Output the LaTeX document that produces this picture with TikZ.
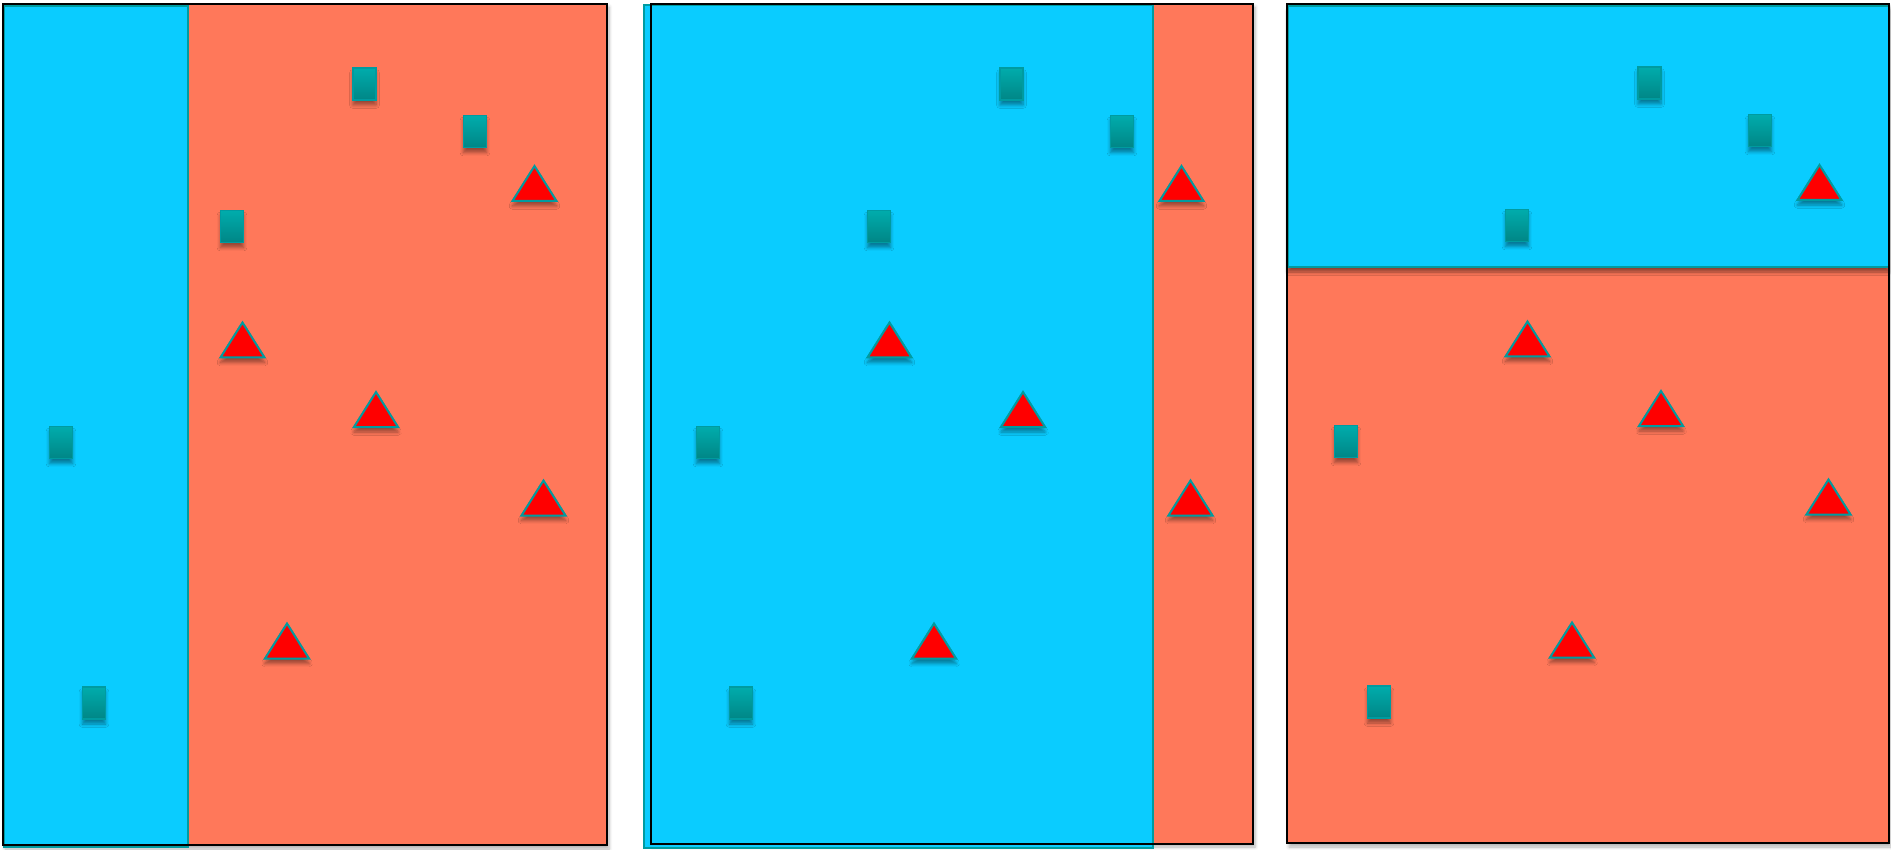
\documentclass[tikz,border=0pt]{standalone}
\usetikzlibrary{shadows.blur}
\definecolor{skyb}{RGB}{10,204,255}
\definecolor{salmon}{RGB}{255,120,90}
\definecolor{tealA}{RGB}{0,172,172}
\definecolor{tealB}{RGB}{0,134,134}
\definecolor{tealE}{RGB}{0,155,160}
\tikzset{
  sqbox/.style={rectangle, draw=tealE, line width=0.9pt, top color=tealA, bottom color=tealB,
    minimum width=11.5pt, minimum height=16pt, inner sep=0pt,
    blur shadow={shadow xshift=0pt, shadow yshift=-2.5pt, shadow blur steps=6, shadow opacity=40}},
  tri/.pic={\path[fill=red, draw=tealE, line width=1pt, line join=miter,
    blur shadow={shadow xshift=0pt, shadow yshift=-2.5pt, shadow blur steps=6, shadow opacity=40}]
    (-22,17.5) -- (22,17.5) -- (0,-17.5) -- cycle;},
  framebox/.style={draw=black, line width=1.1pt},
  panelbg/.style={fill=salmon, blur shadow={shadow xshift=1pt, shadow yshift=-1.5pt, shadow blur steps=5, shadow opacity=30}},
  bluepart/.style={fill=skyb, draw=tealE, line width=0.8pt},
}
\begin{document}
\begin{tikzpicture}[x=0.5pt, y=-0.5pt]
\useasboundingbox (0,0) rectangle (1891,850);
% ---------- panel 1 ----------
\path[panelbg] (3,4) rectangle (607,846);
\draw[bluepart] (4,6) rectangle (188,847);
\draw[framebox] (3,4) rectangle (607,845);
% ---------- panel 2 ----------
\path[panelbg] (651,4) rectangle (1253,844);
\draw[bluepart] (644,5) rectangle (1153,848);
\draw[framebox] (651,4) rectangle (1253,844);
% ---------- panel 3 ----------
\path[panelbg] (1287,4) rectangle (1889,844);
\draw[bluepart, blur shadow={shadow xshift=0pt, shadow yshift=-2.5pt, shadow blur steps=6, shadow opacity=45}] (1288,6) rectangle (1889,267);
\draw[framebox] (1287,4) rectangle (1889,843);
% ---------- markers ----------
\foreach \p/\dx/\dy in {1/0/0, 2/647/0, 3/1285/-1} {
  \begin{scope}[shift={(\dx,\dy)}]
    \node[sqbox] (sqa-\p) at (364.5,84) {};
    \node[sqbox] (sqb-\p) at (475,131.5) {};
    \node[sqbox] (sqc-\p) at (232,226.5) {};
    \node[sqbox] (sqd-\p) at (61,442.5) {};
    \node[sqbox] (sqe-\p) at (94,703) {};
    \pic (tra-\p) at (534.5,183.5) {tri};
    \pic (trb-\p) at (242.5,340) {tri};
    \pic (trc-\p) at (376,409.5) {tri};
    \pic (trd-\p) at (543.5,498) {tri};
    \pic (tre-\p) at (287,641) {tri};
  \end{scope}
}
\end{tikzpicture}
\end{document}
